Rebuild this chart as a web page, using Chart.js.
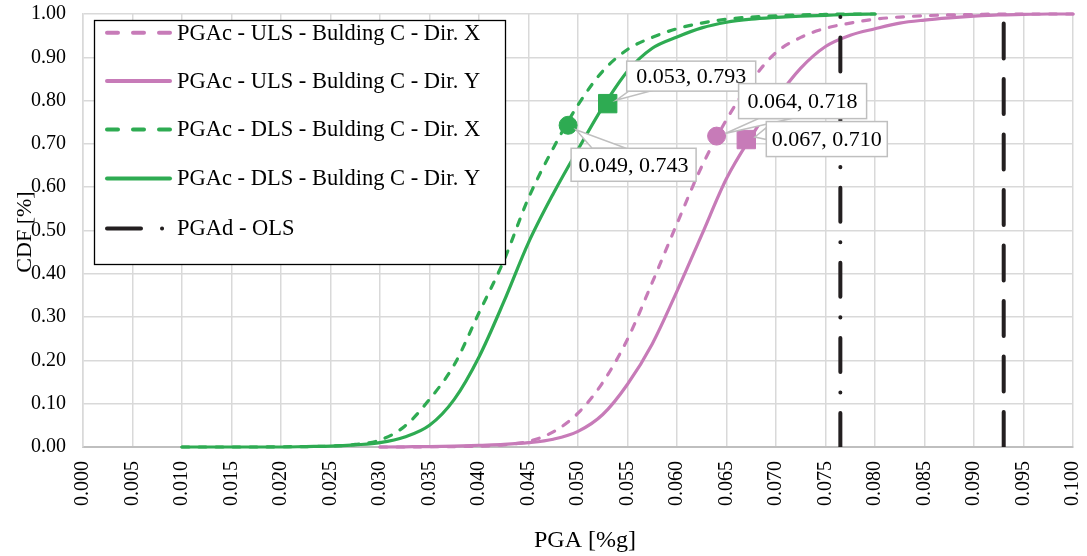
<!DOCTYPE html>
<html><head><meta charset="utf-8">
<script src="https://cdn.jsdelivr.net/npm/chart.js@4.4.1/dist/chart.umd.min.js"></script>
<style>html,body{margin:0;padding:0;background:#fff;}canvas{display:block;}</style>
</head><body>
<canvas id="c" width="1087" height="556"></canvas>
<script>
// ---- data ----
const pgaGrid = [0.010,0.0125,0.015,0.0175,0.020,0.0225,0.025,0.0275,0.030,0.0325,0.035,0.0375,0.040,0.0425,0.045,0.0475,0.050,0.0525,0.055,0.0575,0.060,0.0625,0.065,0.0675,0.070,0.0725,0.075,0.0775,0.080,0.0825,0.085,0.0875,0.090,0.0925,0.095,0.0975,0.100];
const ulsDirX = [null,null,null,null,null,null,null,null,0,0,0.0005,0.001,0.002,0.005,0.013,0.035,0.078,0.149,0.249,0.38,0.516,0.648,0.756,0.845,0.911,0.946,0.967,0.979,0.988,0.993,0.996,0.998,0.999,1,1,1,1];
const ulsDirY = [null,null,null,null,null,null,null,null,0,0.0005,0.001,0.002,0.004,0.006,0.010,0.018,0.036,0.075,0.145,0.238,0.36,0.49,0.62,0.717,0.803,0.875,0.925,0.951,0.966,0.979,0.986,0.991,0.995,0.998,0.999,1,1];
const dlsDirX = [0,0,0,0,0.0005,0.001,0.002,0.006,0.016,0.048,0.11,0.19,0.31,0.43,0.575,0.69,0.79,0.868,0.918,0.946,0.966,0.979,0.988,0.993,0.996,0.998,0.999,1,1,null,null,null,null,null,null,null,null];
const dlsDirY = [0,0,0,0,0,0.001,0.002,0.005,0.010,0.023,0.050,0.11,0.208,0.335,0.472,0.585,0.687,0.785,0.868,0.921,0.947,0.968,0.981,0.988,0.992,0.995,0.997,0.999,1,null,null,null,null,null,null,null,null];
const olsPga = [0.0765, 0.0765];
const limit2Pga = [0.093, 0.093];
const verticalCdf = [0, 1];
const markerPga = [0.049, 0.053, 0.064, 0.067];
const markerCdf = [0.743, 0.793, 0.718, 0.710];
const seriesNames = ['PGAc - ULS - Bulding C - Dir. X','PGAc - ULS - Bulding C - Dir. Y','PGAc - DLS - Bulding C - Dir. X','PGAc - DLS - Bulding C - Dir. Y','PGAd - OLS'];
const xTitle = 'PGA [%g]';
const yTitle = 'CDF [%]';

const PINK = '#c77bb8', GREEN = '#2eab52', BLACK = '#231f20';
const FONT = "'Liberation Serif','Times New Roman',serif";

const toPts = (xs, ys) => xs.map((x, i) => ({x, y: ys[i]}));

function curve(label, ys, color, dashed) {
  return {label, data: toPts(pgaGrid, ys), borderColor: color, backgroundColor: color,
    borderWidth: 3.2, borderDash: dashed ? [7, 10] : [], borderCapStyle: 'round',
    pointRadius: 0, cubicInterpolationMode: 'monotone', spanGaps: false, clip: false, order: 5};
}
function marker(i, color, style) {
  return {label: 'm' + i, data: [{x: markerPga[i], y: markerCdf[i]}], showLine: false,
    pointStyle: style, pointRadius: style === 'rect' ? 13 : 9, pointBackgroundColor: color,
    pointBorderColor: color, pointBorderWidth: 1, clip: false, order: 1};
}

const datasets = [
  curve(seriesNames[0], ulsDirX, PINK, true),
  curve(seriesNames[1], ulsDirY, PINK, false),
  curve(seriesNames[2], dlsDirX, GREEN, true),
  curve(seriesNames[3], dlsDirY, GREEN, false),
  {label: seriesNames[4], data: toPts(olsPga, verticalCdf), borderColor: BLACK, borderWidth: 4,
    borderDash: [34, 20.5, 0.1, 20.5], borderCapStyle: 'round', pointRadius: 0, order: 3},
  {label: '', data: toPts(limit2Pga, verticalCdf), borderColor: BLACK, borderWidth: 4,
    borderDash: [35, 20.5], borderCapStyle: 'round', pointRadius: 0, order: 3},
  marker(0, GREEN, 'circle'),
  marker(1, GREEN, 'rect'),
  marker(2, PINK, 'circle'),
  marker(3, PINK, 'rect')
];

// callout geometry relative to the marker pixel: box [l,t,r,b], wedge base points
const callouts = [
  {box: [3, 23, 128, 56], base: [24, 23, 58, 23]},
  {box: [19, -42.5, 148, -12.5], base: [21, -12.5, 42, -12.5]},
  {box: [22, -52.5, 150, -17.5], base: [42, -17.5, 75, -17.5]},
  {box: [20, -18, 141, 17], base: [20, -12, 20, 0]}
];

const overlay = {
  id: 'overlay',
  afterDraw(chart) {
    const ctx = chart.ctx, xs = chart.scales.x, ys = chart.scales.y;
    ctx.save();
    callouts.forEach((c, i) => {
      const px = xs.getPixelForValue(markerPga[i]), py = ys.getPixelForValue(markerCdf[i]);
      const mx = (c.base[0] + c.base[2]) / 2, my = (c.base[1] + c.base[3]) / 2;
      const d = Math.hypot(mx, my), r = 9;
      const tx = px + mx / d * r, ty = py + my / d * r;
      ctx.beginPath();
      ctx.moveTo(tx, ty);
      ctx.lineTo(px + c.base[0], py + c.base[1]);
      ctx.lineTo(px + c.base[2], py + c.base[3]);
      ctx.closePath();
      ctx.fillStyle = '#fff'; ctx.fill();
      ctx.strokeStyle = '#bfbfbf'; ctx.lineWidth = 1.5; ctx.stroke();
      const l = px + c.box[0], t = py + c.box[1], w = c.box[2] - c.box[0], h = c.box[3] - c.box[1];
      ctx.fillStyle = '#fff'; ctx.fillRect(l, t, w, h);
      ctx.strokeRect(l, t, w, h);
      ctx.fillStyle = '#000'; ctx.font = '22px ' + FONT;
      ctx.textAlign = 'center'; ctx.textBaseline = 'middle';
      ctx.fillText(markerPga[i].toFixed(3) + ', ' + markerCdf[i].toFixed(3), l + w / 2, t + h / 2 + 1);
    });
    const L = 94.5, T = 20.5, W = 411, H = 244;
    ctx.fillStyle = '#fff'; ctx.fillRect(L, T, W, H);
    ctx.strokeStyle = '#000'; ctx.lineWidth = 1.3; ctx.strokeRect(L, T, W, H);
    const rows = [32.7, 81, 129.5, 178.5, 228.5];
    const styles = [[PINK, [11, 15]], [PINK, []], [GREEN, [11, 15]], [GREEN, []], [BLACK, [34, 21, 0.1, 100]]];
    styles.forEach((s, i) => {
      ctx.beginPath(); ctx.strokeStyle = s[0]; ctx.lineWidth = 4; ctx.lineCap = 'round';
      ctx.setLineDash(s[1]);
      ctx.moveTo(107, rows[i]); ctx.lineTo(i === 4 ? 166 : 170, rows[i]); ctx.stroke();
      ctx.setLineDash([]);
      ctx.fillStyle = '#000'; ctx.font = '22.5px ' + FONT; ctx.textAlign = 'left'; ctx.textBaseline = 'middle';
      ctx.fillText(seriesNames[i], 177, rows[i] + 1);
    });
    ctx.fillStyle = '#000'; ctx.textAlign = 'center'; ctx.textBaseline = 'middle';
    ctx.font = '24px ' + FONT;
    ctx.fillText(xTitle, 585, 541);
    ctx.translate(25, 232); ctx.rotate(-Math.PI / 2);
    ctx.font = '22px ' + FONT;
    ctx.fillText(yTitle, 0, 0);
    ctx.restore();
  }
};

new Chart(document.getElementById('c'), {
  type: 'line',
  data: {datasets},
  plugins: [overlay],
  options: {
    responsive: false, animation: false, devicePixelRatio: 1,
    layout: {padding: {top: 14, right: 12, left: 0, bottom: 0}},
    plugins: {legend: {display: false}, tooltip: {enabled: false}},
    scales: {
      x: {type: 'linear', min: 0, max: 0.1,
        afterFit: s => { s.height = 109; s.paddingLeft = 0; s.paddingRight = 0; },
        ticks: {stepSize: 0.005, autoSkip: false, maxRotation: 90, minRotation: 90, padding: 14,
          color: '#000', font: {family: FONT, size: 20}, callback: v => Number(v).toFixed(3)},
        grid: {color: '#d9d9d9', lineWidth: 1.5, drawTicks: false},
        border: {color: '#bfbfbf', width: 2}},
      y: {type: 'linear', min: 0, max: 1,
        afterFit: s => { s.width = 83; s.paddingTop = 0; s.paddingBottom = 0; },
        ticks: {stepSize: 0.1, padding: 17, color: '#000', font: {family: FONT, size: 20},
          callback: v => Number(v).toFixed(2)},
        grid: {color: '#d9d9d9', lineWidth: 1.5, drawTicks: false},
        border: {color: '#d9d9d9', width: 1.5}}
    }
  }
});
</script>
</body></html>
